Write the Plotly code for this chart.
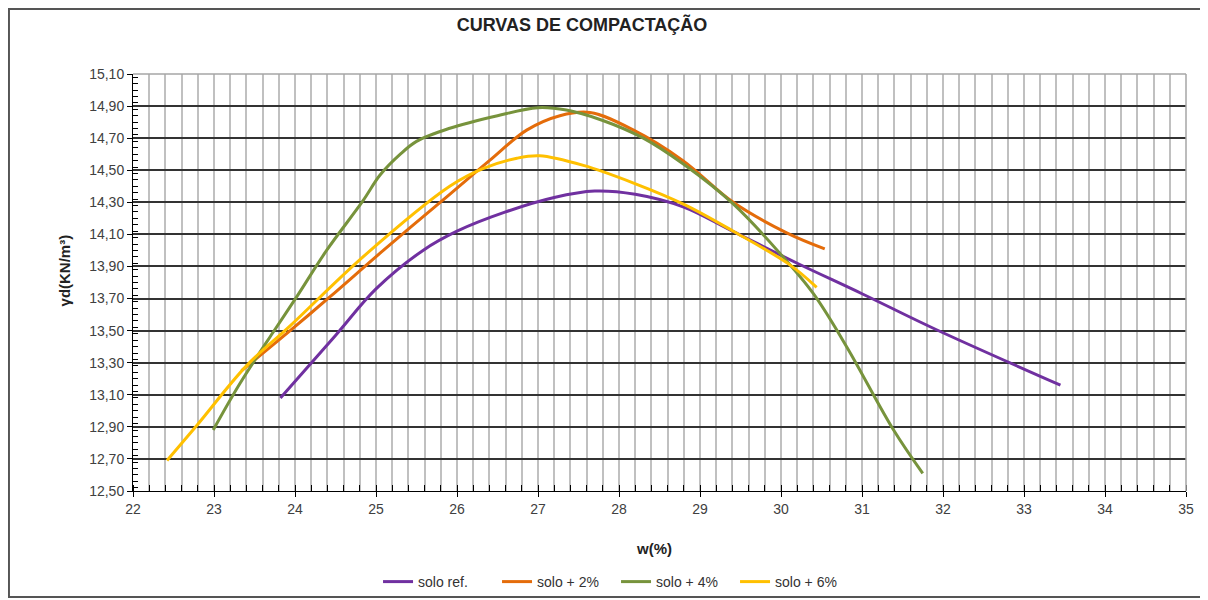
"""
Compaction curves (curvas de compactação) - dry unit weight vs water content.
"""

import plotly.graph_objects as go

# values
solo_ref_w = [23.82, 24.50, 25.00, 25.58, 26.00, 26.60, 27.20, 27.70, 28.20, 28.80, 29.40, 30.20, 31.00, 31.90, 33.45]
solo_ref_gd = [13.08, 13.47, 13.76, 14.00, 14.12, 14.24, 14.33, 14.37, 14.35, 14.27, 14.12, 13.92, 13.73, 13.51, 13.16]

solo_2_w = [23.34, 23.94, 24.43, 25.09, 25.91, 26.40, 26.86, 27.27, 27.64, 28.18, 28.79, 29.41, 30.07, 30.54]
solo_2_gd = [13.25, 13.50, 13.71, 14.00, 14.35, 14.56, 14.75, 14.84, 14.86, 14.75, 14.56, 14.30, 14.11, 14.01]

solo_4_w = [22.99, 23.32, 23.73, 24.02, 24.39, 24.84, 25.05, 25.30, 25.50, 25.90, 26.50, 27.00, 27.35, 27.80, 28.30, 28.79, 29.41, 29.99, 30.40, 30.81, 31.39, 31.75]
solo_4_gd = [12.88, 13.17, 13.49, 13.71, 14.00, 14.31, 14.47, 14.60, 14.68, 14.76, 14.84, 14.89, 14.875, 14.81, 14.70, 14.54, 14.29, 13.98, 13.73, 13.40, 12.88, 12.61]

solo_6_w = [22.42, 22.79, 23.40, 23.94, 24.84, 25.91, 26.32, 26.74, 27.02, 27.56, 28.18, 28.79, 29.41, 30.11, 30.44]
solo_6_gd = [12.69, 12.91, 13.28, 13.53, 13.96, 14.40, 14.51, 14.575, 14.59, 14.53, 14.42, 14.29, 14.12, 13.91, 13.77]

SERIES = [
    ("solo ref.", solo_ref_w, solo_ref_gd, "#7030A0"),
    ("solo + 2%", solo_2_w, solo_2_gd, "#E46C0A"),
    ("solo + 4%", solo_4_w, solo_4_gd, "#77933C"),
    ("solo + 6%", solo_6_w, solo_6_gd, "#FFC000"),
]

FONT = "Liberation Sans, Arial, sans-serif"

AXIS_COMMON = dict(
    showline=True,
    linewidth=1,
    linecolor="black",
    ticks="outside",
    ticklen=5,
    tickcolor="black",
    zeroline=False,
    tickfont=dict(size=14, color="#404040", family=FONT),
)

fig = go.Figure()

for name, w, gd, color in SERIES:
    fig.add_trace(go.Scatter(
        x=w, y=gd, name=name, mode="lines",
        line=dict(color=color, width=3, shape="spline", smoothing=1.0),
    ))

fig.update_xaxes(
    range=[22, 35], dtick=1, tick0=22,
    showgrid=True, gridcolor="#c0c0c0", gridwidth=1.5,
    minor=dict(dtick=0.2, ticks="inside", ticklen=6, tickcolor="black",
               showgrid=True, gridcolor="#c0c0c0", gridwidth=1.5),
    **AXIS_COMMON,
)
fig.update_yaxes(
    range=[12.5, 15.1], dtick=0.2, tick0=12.5, tickformat=".2f",
    showgrid=True, gridcolor="#333333", gridwidth=1.5,
    minor=dict(dtick=0.04, ticks="inside", ticklen=5, tickcolor="black", showgrid=False),
    **AXIS_COMMON,
)

# page body has an 8px margin, so the figure is drawn 8px smaller and offset
fig.update_layout(
    width=1200,
    height=592,
    margin=dict(l=125, r=22, t=66, b=109),
    plot_bgcolor="white",
    paper_bgcolor="white",
    separators=",.",
    font=dict(family=FONT, color="#222222"),
    title=dict(text="<b>CURVAS DE COMPACTAÇÃO</b>", font=dict(size=18, color="#222222"),
               xref="paper", x=0.4264, xanchor="center",
               yref="container", y=0.971, yanchor="middle"),
    showlegend=True,
    legend=dict(orientation="h", x=0.2327, xanchor="left",
                yref="container", y=0.0304, yanchor="middle",
                entrywidth=74, entrywidthmode="pixels",
                font=dict(size=14, color="#333333"), bgcolor="rgba(0,0,0,0)"),
    annotations=[
        dict(text="<b>w(%)</b>", xref="paper", yref="paper", x=0.4948, y=-0.163,
             showarrow=False, font=dict(size=15, color="#222222")),
        dict(text="<b>γd(KN/m³)</b>", xref="paper", yref="paper", x=-0.0741, y=0.53,
             textangle=-90, showarrow=False, font=dict(size=15, color="#222222")),
    ],
    shapes=[
        # plot area border (top and right), grey like the reference
        dict(type="line", xref="paper", yref="paper", x0=0, x1=1, y0=1, y1=1,
             line=dict(color="#a6a6a6", width=1.5)),
        dict(type="line", xref="paper", yref="paper", x0=1, x1=1, y0=0, y1=1,
             line=dict(color="#a6a6a6", width=1.5)),
        # outer chart frame
        dict(type="rect", xref="paper", yref="paper", x0=-0.1178, x1=1.018, y0=-0.254, y1=1.156,
             line=dict(color="#555555", width=2)),
    ],
)

fig.write_html("out.html")
